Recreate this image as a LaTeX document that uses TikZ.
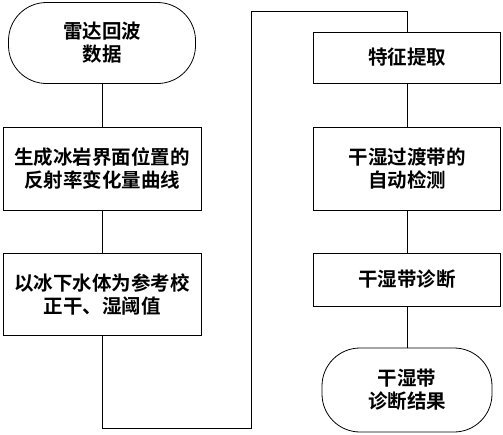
\documentclass[tikz,border=0pt]{standalone}
\usepackage{fontspec}
\newfontfamily\cjk{Noto Sans CJK SC}[BoldFont={* Bold}]
\begin{document}
\begin{tikzpicture}[x=1pt,y=-1pt,
  every node/.style={font=\cjk\bfseries\fontsize{19.5}{23}\selectfont, align=center, inner sep=0pt},
  proc/.style={draw, line width=0.8pt, rectangle, minimum width=#1},
  term/.style={draw, line width=0.8pt, rectangle, rounded corners=38pt},
  conn/.style={line width=0.8pt}]
\useasboundingbox (0,0) rectangle (503,434);
\node[term, minimum width=187pt, minimum height=81pt] (t1) at (102,43) {雷达回波\\数据};
\node[proc=198pt, minimum height=83pt] (b2) at (102,168.5) {生成冰岩界面位置的\\反射率变化量曲线};
\node[proc=198pt, minimum height=82pt] (b3) at (102,294) {以冰下水体为参考校\\正干、湿阈值};
\node[proc=187pt, minimum height=51pt] (b4) at (407,57.5) {特征提取};
\node[proc=187pt, minimum height=83pt] (b5) at (407,168.5) {干湿过渡带的\\自动检测};
\node[proc=187pt, minimum height=53pt] (b6) at (407,279.5) {干湿带诊断};
\node[term, minimum width=170pt, minimum height=84pt] (t2) at (407,390) {干湿带\\诊断结果};
\coordinate (c1) at (251,11);
\draw[conn] (t1) -- (b2);
\draw[conn] (b2) -- (b3);
\draw[conn] (b3.south) -- ++(0,93) -| (c1) -| (b4.north);
\draw[conn] (b4) -- (b5);
\draw[conn] (b5) -- (b6);
\draw[conn] (b6) -- (t2);
\end{tikzpicture}
\end{document}
